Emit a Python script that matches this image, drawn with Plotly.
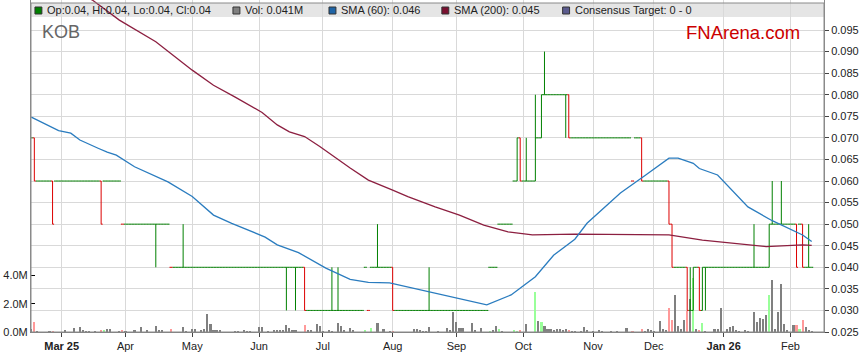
import pandas as pd
import plotly.graph_objects as go

# ---------------- data ----------------
dates = [d.strftime("%Y-%m-%d") for d in pd.bdate_range("2025-02-17", "2026-02-11")]

# daily closes as (price, number of consecutive days)
close_runs = [
    (0.07, 1), (0.06, 6), (0.05, 1), (0.06, 15), (0.05, 1), (0.06, 6), (0.05, 16),
    (0.04, 44), (0.03, 20), (0.04, 1), (0.03, 1), (0.04, 7), (0.03, 32), (0.04, 3),
    (0.05, 5), (0.06, 1), (0.07, 1), (0.06, 5), (0.07, 2), (0.08, 9), (0.07, 21),
    (0.06, 1), (0.07, 2), (0.06, 9), (0.05, 1), (0.04, 5), (0.03, 2), (0.04, 2),
    (0.03, 1), (0.04, 22), (0.05, 9), (0.04, 1), (0.05, 1), (0.04, 4),
]
# days whose open differs from the close (day index -> open)
open_days = [1, 7, 23, 90, 119, 160, 161, 166, 168, 177, 201, 210, 211, 216, 218, 220, 221, 243, 252, 254]
open_vals = [0.07, 0.06, 0.06, 0.04, 0.04, 0.06, 0.07, 0.06, 0.07, 0.08, 0.07, 0.06, 0.05, 0.04, 0.03, 0.04, 0.03, 0.04, 0.05, 0.05]
# intraday spikes
high_days = [50, 99, 101, 114, 131, 163, 166, 169, 217, 238, 244, 247, 256]
high_vals = [0.05, 0.04, 0.04, 0.05, 0.04, 0.07, 0.08, 0.09, 0.04, 0.05, 0.06, 0.06, 0.05]
low_days = [41, 84, 87, 176, 222]
low_vals = [0.04, 0.03, 0.03, 0.07, 0.03]

# daily volume in millions
volume_m = [
    0.21, 0.73, 0.07, 0, 0, 0, 0.05, 0.07, 0, 0,
    0, 0.14, 0, 0, 0.28, 0, 0.35, 0.09, 0.07, 0.07,
    0, 0.07, 0, 0.14, 0.14, 0.21, 0.19, 0, 0, 0.07,
    0.14, 0.07, 0, 0, 0.12, 0, 0.35, 0, 0.14, 0,
    0, 0.42, 0.12, 0.12, 0, 0, 0.21, 0, 0, 0,
    0.35, 0.07, 0, 0.21, 0.21, 0, 0.12, 0.21, 1.27, 0.60,
    0.14, 0.14, 0.14, 0, 0, 0, 0, 0.07, 0.05, 0,
    0.09, 0.07, 0.07, 0, 0, 0.35, 0.35, 0, 0.07, 0,
    0.14, 0.14, 0.12, 0.10, 0.49, 0.28, 0.14, 0.14, 0, 0,
    0.49, 0.14, 0.14, 0, 0.57, 0.42, 0.07, 0, 0.14, 0.07,
    0, 0.64, 0.45, 0.14, 0, 0.28, 0.14, 0, 0, 0,
    0.14, 0, 0.28, 0, 0.64, 0, 0.21, 0, 0.07, 0.07,
    0, 0, 0, 0, 0, 0, 0.21, 0.21, 0.14, 0.07,
    0.07, 0.35, 0, 0, 0.07, 0, 0, 0.30, 0.14, 1.41,
    0.71, 0.28, 0.28, 0, 0, 0.64, 0.14, 0, 0.28, 0,
    0, 0.07, 0.14, 0.42, 0.21, 0.07, 0, 0, 0, 0.14,
    0.05, 0.14, 0, 0.57, 0, 0, 2.83, 0.78, 0.71, 0.42,
    0.21, 0.21, 0.14, 0.21, 0.21, 0.14, 0.21, 0.14, 0.07, 0.07,
    0, 0.07, 0.35, 0.14, 0, 0.07, 0, 0.14, 0.07, 0,
    0, 0.07, 0, 0.07, 0, 0, 0.28, 0, 0.07, 0,
    0, 0.21, 0.07, 0.21, 0.14, 0.07, 0, 0.78, 0.21, 0.14,
    1.70, 0.85, 2.62, 0.42, 0.21, 0.85, 1.48, 2.33, 3.82, 0.21,
    0.14, 0.64, 0.05, 0, 0, 0.21, 0.21, 1.70, 0, 0.21,
    0.35, 0.42, 0.14, 0.07, 0, 0.14, 0.07, 0, 1.41, 0.71,
    0.99, 0.92, 1.20, 2.62, 3.68, 0.21, 1.41, 3.39, 0.57, 0.14,
    0, 0.50, 0.50, 0.21, 0.85, 0.35, 0.14, 0.041,
]

sma60_idx = [0, 9, 13, 16, 22, 25, 28, 34, 45, 53, 60, 66, 77, 81, 88, 97, 105, 111, 118,
             131, 150, 158, 166, 172, 179, 183, 194, 202, 210, 213, 218, 220, 226, 236, 244, 254, 257]
sma60_val = [0.0748, 0.0717, 0.0711, 0.0695, 0.0676, 0.0667, 0.0660, 0.0633, 0.0598, 0.0564,
             0.0521, 0.0502, 0.0470, 0.0452, 0.0434, 0.0398, 0.0372, 0.0365, 0.0364, 0.0343,
             0.0313, 0.0336, 0.0378, 0.0428, 0.0465, 0.0502, 0.0572, 0.0612, 0.0653, 0.0653,
             0.0641, 0.0629, 0.0614, 0.0540, 0.0508, 0.0475, 0.0460]
sma200_idx = [14, 20, 29, 41, 53, 60, 67, 76, 81, 85, 90, 95, 105, 111, 119, 124, 133, 141,
              149, 157, 165, 179, 210, 221, 242, 254, 257]
sma200_val = [0.1035, 0.1020, 0.0973, 0.0923, 0.0857, 0.0822, 0.0795, 0.0759, 0.0730, 0.0714,
              0.0703, 0.0680, 0.0630, 0.0602, 0.0579, 0.0564, 0.0540, 0.0521, 0.0498, 0.0482,
              0.0475, 0.0477, 0.0475, 0.0463, 0.0448, 0.0452, 0.0451]

month_ticks = ["2025-03-03", "2025-04-01", "2025-05-01", "2025-06-02", "2025-07-01", "2025-08-01",
               "2025-09-01", "2025-10-01", "2025-11-03", "2025-12-01", "2026-01-01", "2026-02-02"]
month_labels = ["<b>Mar 25</b>", "Apr", "May", "Jun", "Jul", "Aug", "Sep", "Oct", "Nov", "Dec",
                "<b>Jan 26</b>", "Feb"]
price_ticks = [0.025, 0.030, 0.035, 0.040, 0.045, 0.050, 0.055, 0.060, 0.065, 0.070, 0.075,
               0.080, 0.085, 0.090, 0.095]
vol_ticks = [0, 2, 4]

# ---------------- build series ----------------
closes = []
for p, n in close_runs:
    closes += [p] * n
opens = list(closes)
for d, v in zip(open_days, open_vals):
    opens[d] = v
highs = [max(o, c) for o, c in zip(opens, closes)]
lows = [min(o, c) for o, c in zip(opens, closes)]
for d, v in zip(high_days, high_vals):
    highs[d] = max(highs[d], v)
for d, v in zip(low_days, low_vals):
    lows[d] = min(lows[d], v)

n = len(dates)
down = [i > 0 and closes[i] < closes[i - 1] for i in range(n)]
up = [i > 0 and closes[i] > closes[i - 1] for i in range(n)]

GREEN = "#008000"
RED = "#dd0000"
vol_colors = ["#ff9999" if down[i] else ("#99ff99" if up[i] else "#808080") for i in range(n)]

def pick(arr, mask):
    return [a if m else None for a, m in zip(arr, mask)]

fig = go.Figure()
fig.add_trace(go.Bar(x=dates, y=volume_m, marker=dict(color=vol_colors, line=dict(width=0)),
                     width=0.7, yaxis="y", showlegend=False, hoverinfo="skip"))

not_down = [not d for d in down]
for mask, col in ((not_down, GREEN), (down, RED)):
    fig.add_trace(go.Ohlc(x=dates, open=pick(opens, mask), high=pick(highs, mask),
                          low=pick(lows, mask), close=pick(closes, mask), yaxis="y2",
                          tickwidth=0.5,
                          increasing=dict(line=dict(color=col, width=1)),
                          decreasing=dict(line=dict(color=col, width=1)),
                          showlegend=False, hoverinfo="skip"))

fig.add_trace(go.Scatter(x=[dates[i] for i in sma200_idx], y=sma200_val, yaxis="y2", mode="lines",
                         line=dict(color="#8c1f40", width=1.3), showlegend=False, hoverinfo="skip"))
fig.add_trace(go.Scatter(x=[dates[i] for i in sma60_idx], y=sma60_val, yaxis="y2", mode="lines",
                         line=dict(color="#2a7cbf", width=1.3), showlegend=False, hoverinfo="skip"))

W, H = 859, 363
L, R, T, B = 31, 27, 0, 31
PW, PH = W - L - R, H - T - B

def px(x):
    return (x - L) / PW

def py(y):
    return 1 - (y - T) / PH

FONT = "Arial, Liberation Sans, sans-serif"
shapes = [
    dict(type="rect", xref="paper", yref="paper", x0=0, x1=1, y0=py(17), y1=py(3),
         fillcolor="#e5e5e5", line=dict(width=0), layer="between"),
    dict(type="rect", xref="paper", yref="paper", x0=0, x1=1, y0=0, y1=py(3),
         fillcolor="rgba(0,0,0,0)", line=dict(color="#8a8a8a", width=1), layer="above"),
]
legend_items = [
    (35, GREEN, "Op:0.04, Hi:0.04, Lo:0.04, Cl:0.04"),
    (235, "#808080", "Vol: 0.041M"),
    (332, "#1f64a6", "SMA (60): 0.046"),
    (446, "#7a1030", "SMA (200): 0.045"),
    (568, "#5b5b8e", "Consensus Target: 0 - 0"),
]
annotations = []
for x0, col, txt in legend_items:
    shapes.append(dict(type="rect", xref="paper", yref="paper", x0=px(x0), x1=px(x0 + 7),
                       y0=py(14), y1=py(7), fillcolor=col, line=dict(color="#333333", width=1),
                       layer="above"))
    annotations.append(dict(x=px(x0 + 11), y=py(10.5), xref="paper", yref="paper", text=txt,
                            showarrow=False, xanchor="left", yanchor="middle", borderpad=0,
                            font=dict(family=FONT, size=11, color="#222222")))
annotations.append(dict(x=px(41), y=py(32), xref="paper", yref="paper", text="KOB",
                        showarrow=False, xanchor="left", yanchor="middle", borderpad=0,
                        font=dict(family=FONT, size=18, color="#666666")))
annotations.append(dict(x=px(692), y=py(32.5), xref="paper", yref="paper", text="FNArena.com",
                        showarrow=False, xanchor="left", yanchor="middle", borderpad=0,
                        font=dict(family=FONT, size=18.5, color="#cc0000")))

vmax = 2.0 * PH / 28.3
pmax = 0.025 + PH / 21.57 * 0.005

fig.update_layout(
    width=W, height=H, margin=dict(l=L, r=R, t=T, b=B, pad=0),
    paper_bgcolor="white", plot_bgcolor="white", showlegend=False,
    bargap=0,
    xaxis=dict(type="category", categoryorder="array", categoryarray=dates,
               range=[-0.1, 261.05], tickvals=month_ticks, ticktext=month_labels,
               showgrid=True, gridcolor="#d9d9d9", gridwidth=1,
               ticks="outside", ticklen=4, tickcolor="#444444",
               showline=True, linecolor="#808080", linewidth=1,
               tickfont=dict(family=FONT, size=11, color="#222222"),
               rangeslider=dict(visible=False), fixedrange=True),
    yaxis=dict(range=[0, vmax], tickvals=vol_ticks, ticktext=["0.0M", "2.0M", "4.0M"],
               side="left", showgrid=False, zeroline=False, ticks="inside", ticklen=4,
               tickcolor="#000000", showline=True, linecolor="#8a8a8a", linewidth=1,
               tickfont=dict(family=FONT, size=11, color="#222222"), fixedrange=True),
    yaxis2=dict(range=[0.025, pmax], tickvals=price_ticks,
                ticktext=["%.3f" % v for v in price_ticks], side="right", overlaying="y",
                showgrid=True, gridcolor="#d9d9d9", gridwidth=1, zeroline=False,
                ticks="outside", ticklen=4, tickcolor="#444444",
                showline=True, linecolor="#8a8a8a", linewidth=1,
                tickfont=dict(family=FONT, size=11, color="#222222"), fixedrange=True),
    shapes=shapes, annotations=annotations,
)

fig.write_html("out.html", config={"displayModeBar": False})

# remove the default page margin so the figure sits at the window's top-left corner
with open("out.html", encoding="utf-8") as f:
    page = f.read()
page = page.replace("<head>", "<head><style>html,body{margin:0;padding:0;overflow:hidden;}</style>", 1)
with open("out.html", "w", encoding="utf-8") as f:
    f.write(page)
